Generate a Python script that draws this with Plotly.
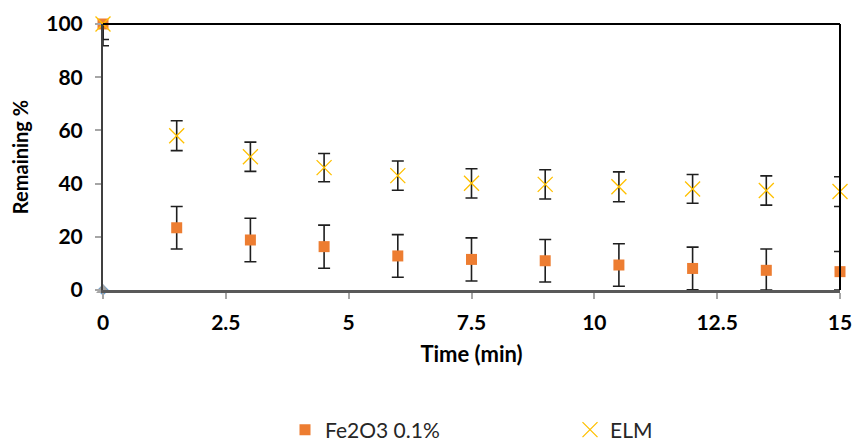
import plotly.graph_objects as go

# Sampling times (min)
time_min = [0, 1.5, 3, 4.5, 6, 7.5, 9, 10.5, 12, 13.5, 15]

# Remaining percentage and standard deviation for each series
fe2o3 = [100, 23.4, 18.8, 16.3, 12.8, 11.5, 11.0, 9.4, 8.1, 7.4, 6.9]
fe2o3_err = [8.2, 8.0, 8.2, 8.1, 8.0, 8.1, 8.0, 8.0, 8.0, 8.0, 7.6]

elm = [100, 58.0, 50.1, 46.0, 43.0, 40.1, 39.7, 38.8, 38.0, 37.4, 37.0]
elm_err = [5.8, 5.6, 5.5, 5.3, 5.5, 5.5, 5.5, 5.6, 5.4, 5.5, 5.6]

# Extra reference points at the origin (not listed in the legend)
origin_x = [0]
origin_y = [0]

Y_MIN, Y_MAX = 0, 100

FONT = "Lato"
ERR_COLOR = "#1f1f1f"


def clipped(values, errs):
    """Error extents trimmed to the visible y range."""
    up = [min(e, Y_MAX - v) for v, e in zip(values, errs)]
    down = [min(e, v - Y_MIN) for v, e in zip(values, errs)]
    return up, down


fe_up, fe_down = clipped(fe2o3, fe2o3_err)
elm_up, elm_down = clipped(elm, elm_err)

fig = go.Figure()

fig.add_trace(go.Scatter(
    x=origin_x, y=origin_y, mode="markers", showlegend=False,
    marker=dict(symbol="diamond", size=9, color="#5B9BD5"),
    cliponaxis=False, hoverinfo="skip",
))
fig.add_trace(go.Scatter(
    x=origin_x, y=origin_y, mode="markers", showlegend=False,
    marker=dict(symbol="triangle-up", size=12, color="#A5A5A5"),
    cliponaxis=False, hoverinfo="skip",
))

fig.add_trace(go.Scatter(
    x=time_min, y=fe2o3, mode="markers", name="Fe2O3 0.1%",
    marker=dict(symbol="square", size=11, color="#ED7D31"),
    error_y=dict(type="data", symmetric=False, array=fe_up, arrayminus=fe_down,
                 color=ERR_COLOR, thickness=1.6, width=6),
    cliponaxis=False,
))
fig.add_trace(go.Scatter(
    x=time_min, y=elm, mode="markers", name="ELM",
    marker=dict(symbol="x-thin-open", size=15, color="#FFC000",
                line=dict(color="#FFC000", width=1.3)),
    error_y=dict(type="data", symmetric=False, array=elm_up, arrayminus=elm_down,
                 color=ERR_COLOR, thickness=1.6, width=6),
    cliponaxis=False,
))

# Frame: top and right edges drawn in black
fig.add_shape(type="line", xref="paper", yref="paper", x0=0, x1=1, y0=1, y1=1,
              line=dict(color="#000000", width=2))
fig.add_shape(type="line", xref="paper", yref="paper", x0=1, x1=1, y0=0, y1=1,
              line=dict(color="#000000", width=2))

fig.update_layout(
    width=855, height=442,
    margin=dict(l=103, r=15, t=24, b=152),
    paper_bgcolor="white", plot_bgcolor="white",
    font=dict(family=FONT, color="#000000"),
    showlegend=True,
    legend=dict(
        orientation="h", x=0.263, xanchor="left",
        yref="container", y=12 / 442, yanchor="middle",
        font=dict(family=FONT, size=21, color="#262626"),
        entrywidth=240, itemwidth=30,
    ),
    xaxis=dict(
        range=[0, 15], tickvals=[0, 2.5, 5, 7.5, 10, 12.5, 15],
        ticktext=["0", "2.5", "5", "7.5", "10", "12.5", "15"],
        showgrid=False, zeroline=False, automargin=False,
        showline=True, linecolor="#595959", linewidth=2.5,
        ticks="outside", ticklen=6, tickwidth=1.5, tickcolor="#A6A6A6",
        ticklabelstandoff=6,
        tickfont=dict(family=FONT, size=21, weight="bold"),
        title=dict(text="Time (min)", font=dict(family=FONT, size=22, weight="bold"),
                   standoff=14),
    ),
    yaxis=dict(
        range=[Y_MIN, Y_MAX], tickvals=[0, 20, 40, 60, 80, 100],
        showgrid=False, zeroline=False, automargin=False,
        showline=True, linecolor="#404040", linewidth=2,
        ticks="outside", ticklen=6, tickwidth=1.5, tickcolor="#A6A6A6",
        ticklabelstandoff=8,
        tickfont=dict(family=FONT, size=21, weight="bold"),
        title=dict(text="Remaining %", font=dict(family=FONT, size=20, weight="bold"),
                   standoff=12),
    ),
)

fig.write_html("out.html")
